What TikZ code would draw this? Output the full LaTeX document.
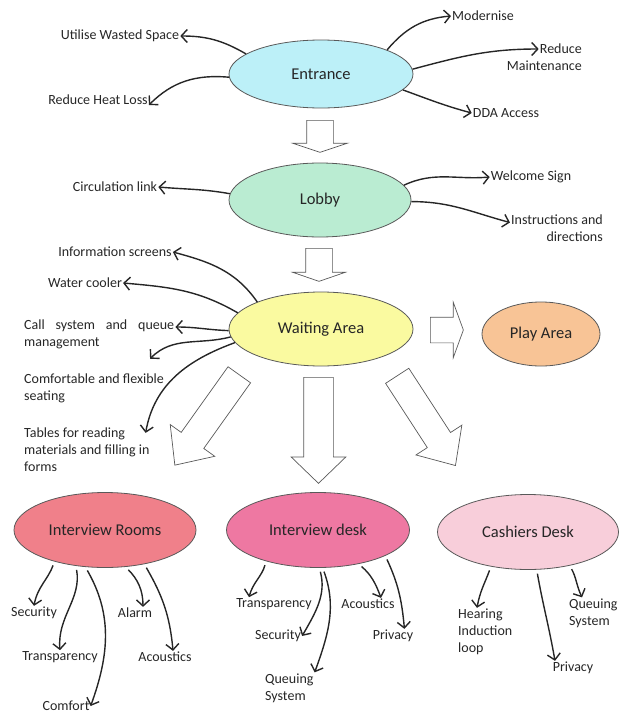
\documentclass[tikz,border=0pt]{standalone}
\usepackage{fontspec}
\setmainfont{Carlito}
\usetikzlibrary{shapes.geometric,shapes.arrows,arrows.meta}
\definecolor{entrfill}{RGB}{188,240,248}
\definecolor{lobbyfill}{RGB}{186,236,210}
\definecolor{waitfill}{RGB}{250,250,160}
\definecolor{playfill}{RGB}{248,196,150}
\definecolor{roomfill}{RGB}{240,128,138}
\definecolor{deskfill}{RGB}{238,120,162}
\definecolor{cashfill}{RGB}{248,206,218}

\begin{document}
\begin{tikzpicture}[x=1pt,y=1pt,
  place/.style={ellipse,draw=black!65,line width=0.8pt,inner sep=0pt,text=black!85,font=\fontsize{16.5}{20}\selectfont},
  note/.style={inner sep=1pt,text=black!85,font=\fontsize{14}{17}\selectfont},
  link/.style={draw=black!85,line width=1.4pt,-{Straight Barb[length=6pt,width=13pt]}},
  sublink/.style={link,shorten <=4pt},
  flow/.style={single arrow,draw=black!65,fill=white,line width=0.7pt,inner xsep=0pt,single arrow head indent=0pt,anchor=tail}]
\useasboundingbox (0,0) rectangle (620,-715);

% places
\node[place,fill=entrfill,minimum width=184,minimum height=68] (entrance) at (321,-74) {Entrance};
\node[place,fill=lobbyfill,minimum width=182,minimum height=74] (lobby) at (320,-200) {Lobby};
\node[place,fill=waitfill,minimum width=184,minimum height=74] (waiting) at (321,-329) {Waiting Area};
\node[place,fill=playfill,minimum width=118,minimum height=64] (play) at (541,-334) {Play Area};
\node[place,fill=roomfill,minimum width=182,minimum height=75] (introoms) at (105,-530) {Interview Rooms};
\node[place,fill=deskfill,minimum width=183,minimum height=75] (intdesk) at (318,-530) {Interview desk};
\node[place,fill=cashfill,minimum width=181,minimum height=75] (cashiers) at (528,-532) {Cashiers Desk};

% block arrows
\node[flow,rotate=-90,inner ysep=13,single arrow head extend=14,single arrow tip angle=143,minimum height=32] (flow1) at (320,-120) {};
\node[flow,rotate=-90,inner ysep=13,single arrow head extend=13,single arrow tip angle=142,minimum height=33] (flow2) at (319,-248) {};
\node[flow,inner ysep=12.5,single arrow head extend=15,single arrow tip angle=140,minimum height=33] (flow3) at (430,-330) {};
\node[flow,rotate=-125.5,inner ysep=13.5,single arrow head extend=13.5,single arrow tip angle=84,minimum height=111] (flow4) at (239.5,-374.5) {};
\node[flow,rotate=-90,inner ysep=14.5,single arrow head extend=12.5,single arrow tip angle=92,minimum height=106] (flow5) at (318.5,-377) {};
\node[flow,rotate=-57,inner ysep=13.5,single arrow head extend=13.5,single arrow tip angle=84,minimum height=107] (flow6) at (397,-375.5) {};

% one-line notes
\foreach \n/\x/\y/\t in {utilise/120/36/Utilise Wasted Space, heatloss/98/100/Reduce Heat Loss,
    modernise/483/16/Modernise, dda/506/113/DDA Access, circ/115/187/Circulation link,
    welcome/531/177/Welcome Sign, info/115/252/Information screens, water/85/283/Water cooler,
    sec1/34/613/Security, trans1/60/657/Transparency, comfort/66/706/Comfort, alarm/135/613/Alarm,
    acoust1/165/657/Acoustics, trans2/274/604/Transparency, sec2/278/636/Security,
    acoust2/368/604/Acoustics, privacy2/393/636/Privacy, privacy3/573/668/Privacy}
  \node[note] (\n) at (\x,-\y) {\t};

% notes over more lines
\node[note,anchor=east] (maint1) at (583,-49) {Reduce};
\node[note,anchor=east] (maint2) at (583,-66) {Maintenance};
\node[note,anchor=east,align=right] (instr) at (604,-228.5) {Instructions and\\directions};
\node[note,anchor=west,text width=150,align=justify] (call) at (23,-334.5) {Call system and queue management};
\node[note,anchor=west,align=left] (comfortable) at (23,-388.5) {Comfortable and flexible\\seating};
\node[note,anchor=west,align=left] (tables) at (23,-450) {Tables for reading\\materials and filling in\\forms};
\node[note,anchor=west,align=left] (queuing2) at (264,-688) {Queuing\\System};
\node[note,anchor=west,align=left] (hearing) at (457,-632) {Hearing\\Induction\\loop};
\node[note,anchor=west,align=left] (queuing3) at (568,-613) {Queuing\\System};

% entrance
\draw[link] (entrance.165) to[out=150,in=0] (utilise.east);
\draw[link] (entrance.182) to[out=175,in=45] ([yshift=-5pt]heatloss.east);
\draw[link] (entrance.20) to[out=50,in=185] (modernise.west);
\draw[link] (entrance.3) to[out=15,in=180] (maint1.west);
\draw[link] (entrance.-11) to[out=-20,in=165] (dda.west);
% lobby
\draw[link] (lobby.176) to[out=170,in=-5] (circ.east);
\draw[link] (lobby.10) to[out=25,in=185] (welcome.west);
\draw[link] (lobby.-1) to[out=0,in=165] ([yshift=6pt]instr.west);
% waiting area
\draw[link] (waiting.157) to[out=125,in=-15] (info.east);
\draw[link] (waiting.169) to[out=150,in=-5] (water.east);
\draw[link] (waiting.181) to[out=178,in=0] ([yshift=7.5pt]call.east);
\draw[link] (waiting.185) to[out=195,in=45] ([shift={(-15pt,14pt)}]comfortable.north east);
\draw[link] (waiting.189) to[out=200,in=80] ([shift={(-5pt,-6pt)}]tables.north east);
% interview rooms
\draw[sublink] (introoms.212) to[out=-110,in=80] (sec1.north);
\draw[sublink] (introoms.231) to[out=-80,in=95] (trans1.north);
\draw[sublink] (introoms.242) to[out=-60,in=70] (comfort.east);
\draw[sublink] (introoms.-61) to[out=-45,in=90] ([xshift=8pt]alarm.north);
\draw[sublink] (introoms.-41) to[out=-60,in=95] ([xshift=8pt]acoust1.north);
% interview desk
\draw[sublink] (intdesk.211) to[out=-105,in=75] ([xshift=-25pt]trans2.north);
\draw[sublink] (intdesk.-88) to[out=-75,in=60] (sec2.east);
\draw[sublink] (intdesk.-83) to[out=-70,in=70] (queuing2.north east);
\draw[sublink] (intdesk.-40) to[out=-40,in=110] ([xshift=13pt]acoust2.north);
\draw[sublink] (intdesk.-21) to[out=-65,in=95] ([xshift=-10pt]privacy2.north east);
% cashiers desk
\draw[sublink] (cashiers.223) to[out=-110,in=80] ([xshift=20pt]hearing.north west);
\draw[sublink] (cashiers.-77) to[out=-80,in=100] ([xshift=-18pt]privacy3.north);
\draw[sublink] (cashiers.-39) to[out=-60,in=115] ([xshift=14pt]queuing3.north west);
\end{tikzpicture}
\end{document}
